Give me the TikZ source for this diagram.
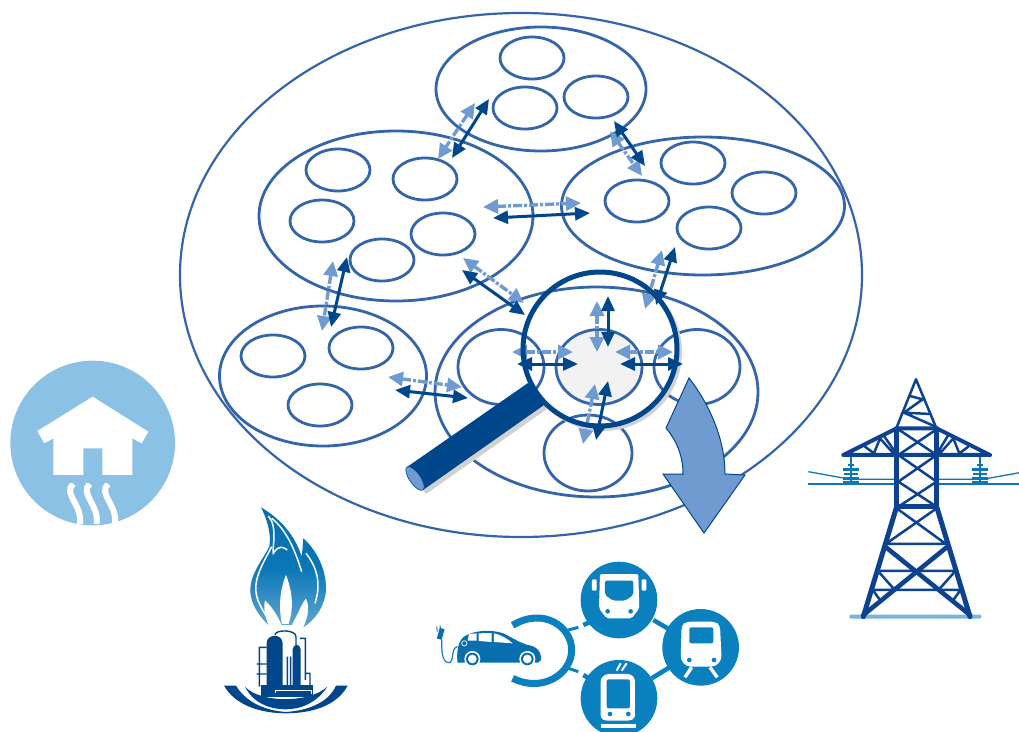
\documentclass[tikz,border=0pt]{standalone}
\usetikzlibrary{arrows.meta,shapes.geometric}
\definecolor{ringblue}{HTML}{3465A8}
\definecolor{navy}{HTML}{00468B}
\definecolor{lightarrow}{HTML}{6F9BD0}
\definecolor{housesky}{HTML}{8BC1E5}
\definecolor{flameblue}{HTML}{0A77B7}
\definecolor{transit}{HTML}{0A80BF}
\definecolor{pylon}{HTML}{0C428F}
\tikzset{
 oval/.style 2 args={draw=ringblue,line width=2.8pt,ellipse,inner sep=0pt,minimum width=#1pt,minimum height=#2pt},
 cell/.style={oval={64}{42}},
 dk/.style={draw=navy,line width=3pt,{Triangle[length=15pt,width=13pt]}-{Triangle[length=15pt,width=13pt]}},
 lt/.style={draw=lightarrow,line width=3.4pt,dash pattern=on 9pt off 2pt on 3pt off 2pt,{Triangle[length=15pt,width=14pt]}-{Triangle[length=15pt,width=14pt]}},
 tw/.style={draw=pylon,line width=2.5pt,line cap=round},
 twb/.style={draw=pylon,line width=4pt,line cap=round},
 wire/.style={draw=flameblue,line width=1.3pt},
 ins/.style={draw=flameblue,line width=2pt},
 pipe/.style={draw=navy,line width=1.4pt},
 wave/.style={draw=white,line width=6pt,line cap=butt},
}
\begin{document}
\begin{tikzpicture}[x=1pt,y=-1pt]
\useasboundingbox (0,0) rectangle (1019,731);
% ---- regions
\node[oval={682}{524},line width=2.2pt] (world) at (521,275) {};
\node[oval={210}{124}] (gtop) at (541,89) {};
\node[cell] (t1) at (532,58) {};
\node[cell] (t2) at (525,108) {};
\node[cell] (t3) at (596,97) {};
\node[oval={274}{170}] (gleft) at (396,216) {};
\node[cell] (l1) at (338,170) {};
\node[cell] (l2) at (425,179) {};
\node[cell] (l3) at (322,221) {};
\node[cell] (l4) at (443,234) {};
\node[cell] (l5) at (382,260) {};
\node[oval={283}{138}] (gright) at (703,206) {};
\node[cell] (r1) at (693,163) {};
\node[cell] (r2) at (764,193) {};
\node[cell] (r3) at (637,201) {};
\node[cell] (r4) at (709,228) {};
\node[oval={207}{140}] (gbl) at (323,376) {};
\node[cell] (b1) at (273,356) {};
\node[cell] (b2) at (361,348) {};
\node[cell] (b3) at (320,405) {};
\node[oval={323}{210}] (gbc) at (596.5,392) {};
\node[oval={86}{75}] (c1) at (501,367) {};
\node[oval={86}{75},fill=black!5] (c2) at (599,367) {};
\node[oval={86}{75}] (c3) at (697,367) {};
\node[oval={88}{76}] (c4) at (588,453) {};
% ---- magnifier shadow and handle
\fill[black!18] (531,387) -- (547,409) -- (426,494) -- (410,471) -- cycle;
\fill[black!18,even odd rule] (603,352) circle (79) (600,349) circle (75);
% ---- double arrows
\foreach \n/\ax/\ay/\bx/\by in {
 1/475/103/438/159, 2/610/131/642/176, 3/483/207/581/203, 4/333/261/322/331,
 5/662/250/645/309, 6/463/258/524/303, 7/388/377/462/387,
 8/597/301/597/352, 9/512/352/573/352, 10/615/352/673/352, 11/595/384/583/444}
 {\coordinate (la\n) at (\ax,\ay); \coordinate (lb\n) at (\bx,\by); \draw[lt] (la\n) -- (lb\n);}
\foreach \n/\ax/\ay/\bx/\by in {
 1/489/99/452/158, 2/614/121/645/166, 3/493/218/590/213, 4/347/257/331/327,
 5/675/247/656/305, 6/462/270/525/315, 7/395/390/468/398,
 8/608/296/608/347, 9/517/364/578/364, 10/620/364/683/364, 11/608/381/596/440}
 {\coordinate (da\n) at (\ax,\ay); \coordinate (db\n) at (\bx,\by); \draw[dk] (da\n) -- (db\n);}
% ---- magnifier
\fill[navy] (528,383) -- (544,405) -- (423,490) -- (407,467) -- cycle;
\draw[navy,line width=.6pt,fill=lightarrow,rotate around={35:(415,478.5)}] (415,478.5) ellipse [x radius=5.5,y radius=14];
\draw[navy,line width=5pt] (600,349) circle (77);
% ---- big arrow
\draw[navy,line width=1pt,fill=lightarrow,line join=miter]
 (689,378) .. controls (710,405) and (725,440) .. (725,474) -- (745,475) -- (704,533) -- (663,474) -- (683,474)
 .. controls (683,455) and (676,440) .. (666,428) -- cycle;
% ---- house icon
\begin{scope}[shift={(0,350)},x=.3333pt,y=-.3333pt]
 \fill[housesky] (278,279) circle (247);
 \fill[white,line join=round] (278,140) -- (445,245) -- (425,280) -- (397,265) -- (397,375) -- (307,375) -- (307,295) -- (250,295) -- (250,375) -- (160,375) -- (160,265) -- (133,280) -- (112,243) -- cycle;
 \begin{scope}
 \clip (90,400) rectangle (460,520);
 \draw[wave] (220,402) .. controls (185,430) and (255,470) .. (238,530);
 \draw[wave] (270,402) .. controls (235,430) and (305,470) .. (288,530);
 \draw[wave] (325,402) .. controls (290,430) and (360,470) .. (343,530);
 \end{scope}
\end{scope}
% ---- gas icon
\begin{scope}[shift={(0,350)},x=.3333pt,y=-.3333pt]
 \shade[top color=flameblue!80!navy,bottom color=flameblue!65!white,middle color=flameblue]
  (805,825) .. controls (770,790) and (745,750) .. (752,705) .. controls (758,665) and (790,625) .. (808,590)
  .. controls (815,550) and (800,505) .. (783,472) .. controls (840,505) and (885,555) .. (905,620)
  .. controls (908,600) and (908,585) .. (910,565) .. controls (950,600) and (980,660) .. (978,720)
  .. controls (975,770) and (945,810) .. (910,832) .. controls (925,800) and (930,770) .. (918,745)
  .. controls (905,760) and (895,790) .. (875,825) -- (845,825) .. controls (830,790) and (815,770) .. (795,750)
  .. controls (790,775) and (795,800) .. (805,825) -- cycle;
 \draw[white,line width=1.5pt] (805,498) .. controls (835,530) and (815,600) .. (820,610) .. controls (835,585) and (850,590) .. (862,600);
 \draw[white,line width=1.5pt] (815,505) .. controls (860,540) and (885,600) .. (905,665);
 \draw[white,line width=1.5pt] (815,590) .. controls (790,640) and (755,690) .. (772,745) .. controls (780,770) and (795,790) .. (808,815);
 \draw[white,line width=1.5pt] (918,610) .. controls (950,650) and (965,700) .. (945,760);
 \fill[white] (858,675) .. controls (880,730) and (880,780) .. (866,822) -- (846,822) .. controls (835,770) and (840,720) .. (858,675) -- cycle;
 \fill[navy] (800,1010) -- (800,880) .. controls (800,850) and (848,850) .. (848,880) -- (848,1010) -- cycle;
 \fill[navy] (878,1010) -- (878,898) .. controls (880,880) and (900,880) .. (902,898) -- (902,1010) -- cycle;
 \draw[pipe] (778,1010) -- (778,892) -- (800,892) (770,942) -- (800,942) (770,972) -- (800,972)
  (825,855) .. controls (825,838) and (888,838) .. (888,860) -- (888,885)
  (900,865) -- (916,865) -- (916,990) (916,970) -- (930,970) -- (930,1010) (862,920) -- (862,1005) (872,920) -- (872,1005);
 \fill[navy] (782,1005) -- (940,1005) -- (940,1040) -- (782,1040) -- cycle;
 \fill[navy] (735,1010) .. controls (780,1060) and (930,1060) .. (982,1010) .. controls (950,1060) and (900,1078) .. (858,1078) .. controls (810,1078) and (760,1060) .. (735,1010) -- cycle;
 \fill[navy] (672,1007) -- (708,1007) .. controls (740,1060) and (800,1082) .. (858,1086) .. controls (920,1082) and (985,1060) .. (1008,1007) -- (1043,1007) .. controls (1010,1070) and (930,1090) .. (858,1090) .. controls (780,1090) and (705,1065) .. (672,1007) -- cycle;
 \draw[white,line width=.7pt] (825,1020) -- (935,1020) -- (935,1032) (825,1020) -- (825,1030);
\end{scope}
% ---- transport icon
\begin{scope}[shift={(420,550)},x=.3333pt,y=-.3333pt]
 \draw[transit,line width=4.5pt] (700,210) -- (760,245) (695,385) -- (760,345);
 \draw[transit,line width=4.5pt] (490,225) -- (525,210) (490,375) -- (525,395);
 \draw[transit,line width=7pt] (278,226) .. controls (370,170) and (455,230) .. (455,300) .. controls (455,370) and (370,430) .. (278,385);
 \draw[transit,line width=3pt] (445,240) -- (475,232) (445,355) -- (475,365);
 \fill[transit] (597,150) circle (115) (842,292) circle (115) (597,445) circle (115);
 % bus
 \fill[white,rounded corners=2pt] (540,72) -- (655,72) -- (658,175) -- (635,205) -- (560,205) -- (537,175) -- cycle;
 \fill[white,rounded corners=1pt] (516,88) rectangle (530,122) (665,88) rectangle (679,122);
 \fill[transit,rounded corners=2pt] (555,92) -- (640,92) -- (640,135) -- (615,152) -- (580,152) -- (555,135) -- cycle;
 \fill[transit] (563,184) circle (7) (632,184) circle (7) (575,210) rectangle (620,222);
 % train
 \fill[white,rounded corners=4pt] (785,225) -- (800,215) -- (885,215) -- (900,225) -- (905,330) -- (885,350) -- (800,350) -- (782,330) -- cycle;
 \fill[transit,rounded corners=2pt] (808,232) rectangle (880,280);
 \fill[transit] (808,330) circle (7) (882,330) circle (7);
 \draw[white,line width=3.4pt] (815,352) -- (795,382) (870,352) -- (892,382);
 % tram
 \fill[white,rounded corners=3pt] (558,372) -- (632,372) -- (645,385) -- (645,505) -- (630,512) -- (555,512) -- (542,505) -- (542,385) -- cycle;
 \fill[transit,rounded corners=2pt] (560,388) rectangle (630,475);
 \fill[transit] (570,492) circle (7) (625,492) circle (7);
 \draw[white,line width=2pt] (590,362) -- (602,340) (605,362) -- (620,340);
 \fill[white] (542,522) rectangle (647,533);
 % car
 \fill[transit!70!navy] (112,332) .. controls (110,300) and (115,270) .. (135,258) .. controls (165,240) and (215,238) .. (250,250)
  .. controls (280,265) and (300,278) .. (320,284) .. controls (345,288) and (365,300) .. (363,330) -- (355,338) -- (112,338) -- cycle;
 \fill[white] (147,252) -- (170,250) -- (170,272) -- (143,272) -- cycle (176,250) -- (215,249) -- (215,276) -- (176,273) -- cycle (222,250) .. controls (245,255) and (265,268) .. (278,280) -- (222,276) -- cycle;
 \draw[white,line width=.7pt] (133,280) circle (8);
 \fill[white] (157,327) circle (24) (322,327) circle (24);
 \fill[transit!70!navy] (157,327) circle (19) (322,327) circle (19);
 \fill[white] (157,327) circle (13) (322,327) circle (13);
 \draw[transit,line width=1.2pt] (112,290) .. controls (90,295) and (105,340) .. (85,338) .. controls (65,335) and (65,300) .. (65,270);
 \fill[transit!70!navy,rotate around={-15:(62,250)}] (55,235) rectangle (70,268);
 \draw[transit!70!navy,line width=.9pt] (50,230) -- (52,245) (60,226) -- (62,240);
\end{scope}
% ---- pylon
\begin{scope}[shift={(800,370)},x=.3333pt,y=-.3333pt]
 \fill[housesky!85!flameblue,rounded corners=2pt] (148,734) rectangle (545,746);
 \draw[wire] (25,305) -- (135,325) (135,328) -- (282,328) (675,305) -- (565,325) (565,328) -- (415,328);
 \draw[wire,line width=1.7pt] (25,342) -- (282,342) (415,342) -- (657,342);
 \foreach \ix in {153,540}{
  \draw[ins] (\ix,255) -- (\ix,340);
  \draw[ins,line width=2.8pt] (\ix-10,285) -- (\ix+10,285) (\ix-25,298) -- (\ix+25,298) (\ix-22,312) -- (\ix+22,312) (\ix-25,325) -- (\ix+25,325) (\ix-25,337) -- (\ix+25,337);
 }
 \draw[tw] (348,28) -- (290,172) (348,28) -- (408,172);
 \draw[tw] (330,78) -- (368,88) -- (312,128) -- (392,132) (312,128) -- (402,168);
 \draw[twb] (130,255) -- (570,255) (130,255) -- (290,175) -- (410,175) -- (570,255);
 \draw[twb,line width=4.4pt] (290,175) -- (290,410) -- (410,410) -- (410,175);
 \draw[tw] (295,178) -- (410,255) (410,178) -- (295,255) (295,255) -- (410,335) (410,255) -- (295,335) (295,335) -- (410,410) (410,335) -- (295,410);
 \draw[tw] (195,230) -- (222,250) -- (240,205) -- (280,250) (250,195) -- (285,245);
 \draw[tw] (505,230) -- (478,250) -- (460,205) -- (420,250) (445,195) -- (415,245);
 \draw[twb,line width=5pt] (290,410) -- (190,740) (410,410) -- (510,740);
 \draw[tw] (290,415) -- (435,520) (410,415) -- (260,520) (260,522) -- (438,522);
 \draw[twb,line width=4.6pt] (258,532) -- (510,735) (440,532) -- (190,735);
 \draw[tw] (240,603) -- (460,603) (222,660) -- (478,660) (240,610) -- (280,655) (460,610) -- (420,655) (222,665) -- (240,690) (478,665) -- (460,690);
\end{scope}
\end{tikzpicture}
\end{document}
